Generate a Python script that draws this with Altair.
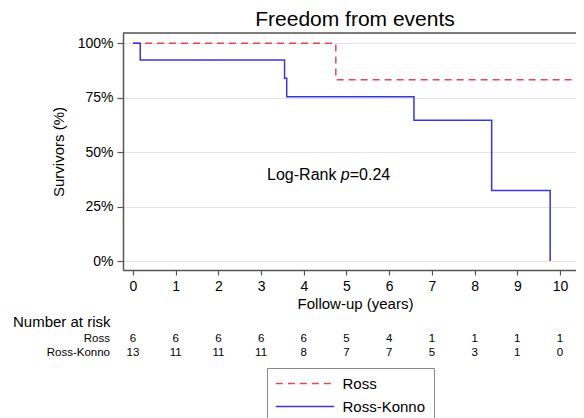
import altair as alt
import pandas as pd

# ---------------- data ----------------
groups = ["Ross", "Ross-Konno"]
ross_time = [0, 4.75, 10.4]
ross_surv = [100, 83.3, 83.3]
rk_time = [0, 0.17, 3.55, 3.6, 6.58, 8.4, 9.77]
rk_surv = [100, 92.3, 84.0, 75.5, 64.7, 32.4, 0]
risk_time = [0, 1, 2, 3, 4, 5, 6, 7, 8, 9, 10]
ross_risk = [6, 6, 6, 6, 6, 5, 4, 1, 1, 1, 1]
rk_risk = [13, 11, 11, 11, 8, 7, 7, 5, 3, 1, 0]
x_ticks = [0, 1, 2, 3, 4, 5, 6, 7, 8, 9, 10]
y_ticks = [0, 25, 50, 75, 100]
title_text = ["Freedom from events"]
pval_parts = ["Log-Rank ", "p", "=0.24"]
pval_x = [3.14]
pval_y = [39.4]

curves = pd.DataFrame({
    "time": ross_time + rk_time,
    "surv": ross_surv + rk_surv,
    "group": [groups[0]] * len(ross_time) + [groups[1]] * len(rk_time),
})
risk_ross = pd.DataFrame({"time": risk_time, "n": ross_risk})
risk_rk = pd.DataFrame({"time": risk_time, "n": rk_risk})
pval = pd.DataFrame({"x": pval_x, "y": pval_y})

FONT = "Liberation Sans"
RED = "#e2484e"
BLUE = "#3636dc"
FRAME = "#555555"
W, H = 453, 237
XMIN, XMAX = -0.234, 10.375
YMIN, YMAX = -4.13, 104.73

xscale = alt.Scale(domain=[XMIN, XMAX], nice=False, zero=False)
yscale = alt.Scale(domain=[YMIN, YMAX], nice=False, zero=False)

legend = alt.Legend(
    title=None, orient="none", legendX=144, legendY=335, direction="vertical",
    strokeColor="#888888", fillColor="white", padding=8,
    labelFont=FONT, labelFontSize=15, labelColor="black",
    symbolType="M-5,0H5", symbolSize=136, symbolStrokeWidth=1.5,
    symbolOffset=22.5, labelOffset=30, rowPadding=7,
)

lines = alt.Chart(curves).mark_line(interpolate="step-after", strokeWidth=1.5).encode(
    x=alt.X("time:Q", scale=xscale, axis=alt.Axis(
        values=x_ticks, title="Follow-up (years)", grid=False,
        labelFont=FONT, labelFontSize=14, labelColor="black", format="d",
        titleFont=FONT, titleFontSize=15, titleFontWeight="normal", titleColor="black",
        domainColor=FRAME, domainWidth=1.5, tickColor=FRAME, tickWidth=1.2, tickSize=5,
        labelPadding=4.5, titlePadding=3, titleX=232, labelFlush=False,
    )),
    y=alt.Y("surv:Q", scale=yscale, axis=alt.Axis(
        values=y_ticks, labelExpr="datum.value + '%'", title="Survivors (%)", grid=True,
        gridColor="#e3e3e3", gridWidth=1,
        labelFont=FONT, labelFontSize=14, labelColor="black",
        titleFont=FONT, titleFontSize=15, titleFontWeight="normal", titleColor="black",
        domainColor=FRAME, domainWidth=1.5, tickColor=FRAME, tickWidth=1.2, tickSize=6,
        labelPadding=4, titlePadding=11, labelFlush=False,
    )),
    color=alt.Color("group:N", scale=alt.Scale(domain=groups, range=[RED, BLUE]), legend=legend),
    strokeDash=alt.StrokeDash("group:N", scale=alt.Scale(domain=groups, range=[[7, 5], [1, 0]]), legend=legend),
)

top_border = alt.Chart(pd.DataFrame({"a": [0]})).mark_rule(color=FRAME, strokeWidth=1.5).encode(
    y=alt.datum(YMAX), x=alt.datum(XMIN), x2=alt.datum(XMAX)
)

title = alt.Chart(pd.DataFrame({"t": title_text})).mark_text(
    font=FONT, fontSize=21, color="black", align="center", baseline="alphabetic"
).encode(x=alt.value(232), y=alt.value(-7), text="t:N")

def ptext(i, dx, style="normal"):
    return alt.Chart(pval).mark_text(
        text=pval_parts[i], align="left", baseline="middle", dx=dx,
        font=FONT, fontSize=16, fontStyle=style, color="black"
    ).encode(x=alt.X("x:Q", scale=xscale), y=alt.Y("y:Q", scale=yscale))

annot = ptext(0, 0) + ptext(1, 73.8, "italic") + ptext(2, 82.7)

def risk_row(df, ypix):
    return alt.Chart(df).mark_text(
        font=FONT, fontSize=11.5, color="black", align="center", baseline="middle"
    ).encode(x=alt.X("time:Q", scale=xscale), y=alt.value(ypix), text="n:Q")

risk_title = alt.Chart(pd.DataFrame({"t": ["Number at risk"]})).mark_text(
    font=FONT, fontSize=15, color="black", align="left", baseline="middle"
).encode(x=alt.value(-110), y=alt.value(289), text="t:N")

def risk_label(name, ypix):
    return alt.Chart(pd.DataFrame({"t": [name]})).mark_text(
        font=FONT, fontSize=11.5, color="black", align="right", baseline="middle"
    ).encode(x=alt.value(-13), y=alt.value(ypix), text="t:N")

chart = alt.layer(
    lines, top_border, annot, title,
    risk_title, risk_label(groups[0], 306), risk_label(groups[1], 320),
    risk_row(risk_ross, 306), risk_row(risk_rk, 320),
).properties(
    width=W, height=H,
    autosize=alt.AutoSizeParams(type="none"),
    padding={"left": 115, "top": 25, "right": 0, "bottom": 150},
).configure_view(stroke=None).configure(background="white")

chart.save("out.html", embed_options={"renderer": "svg", "actions": False})
